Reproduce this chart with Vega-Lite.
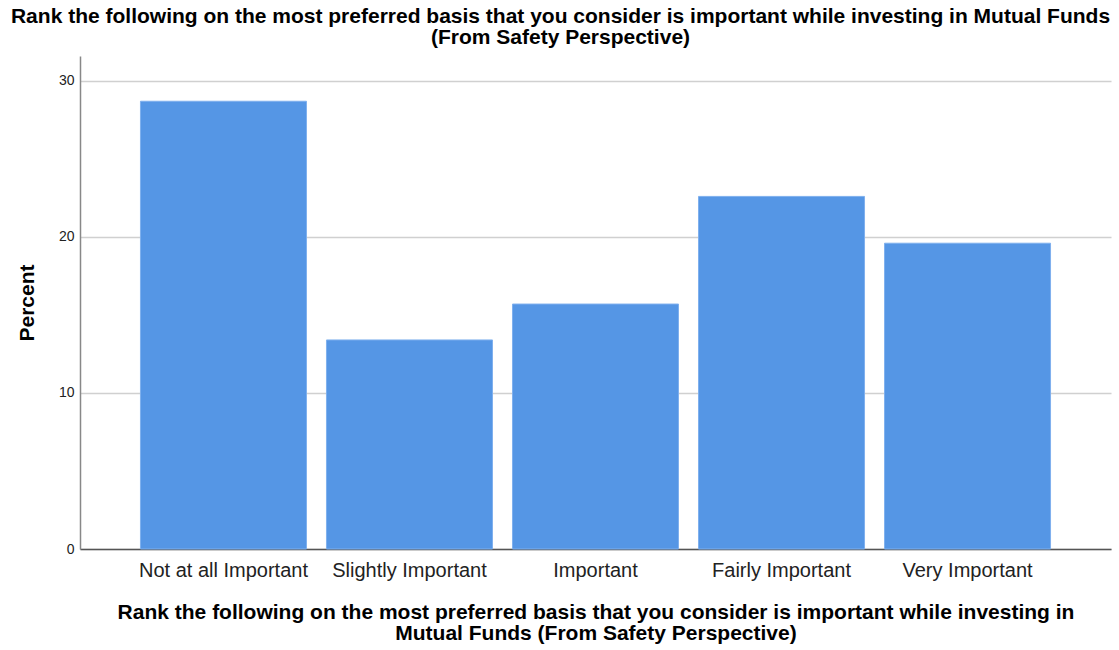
{
  "$schema": "https://vega.github.io/schema/vega-lite/v6.json",
  "width": 1031,
  "height": 493,
  "autosize": {"type": "none"},
  "padding": {"left": 80, "top": 56, "right": 8, "bottom": 101},
  "background": "white",
  "title": {
    "text": ["Rank the following on the most preferred basis that you consider is important while investing in Mutual Funds", "(From Safety Perspective)"],
    "font": "Liberation Sans",
    "fontSize": 21,
    "fontWeight": "bold",
    "color": "#000000",
    "anchor": "middle",
    "dx": -35,
    "offset": 8,
    "lineHeight": 21
  },
  "data": {
    "values": [
      {"category": "Not at all Important", "percent": 28.7},
      {"category": "Slightly Important", "percent": 13.4},
      {"category": "Important", "percent": 15.7},
      {"category": "Fairly Important", "percent": 22.6},
      {"category": "Very Important", "percent": 19.6}
    ]
  },
  "mark": {"type": "bar", "color": "#5596E5", "stroke": "#7fb0ee", "strokeWidth": 1},
  "encoding": {
    "x": {
      "field": "category",
      "type": "nominal",
      "sort": null,
      "scale": {"paddingInner": 0.1075, "paddingOuter": 0.325},
      "axis": {
        "title": ["Rank the following on the most preferred basis that you consider is important while investing in", "Mutual Funds (From Safety Perspective)"],
        "titleFont": "Liberation Sans",
        "titleFontSize": 21,
        "titleFontWeight": "bold",
        "titleColor": "#000000",
        "titleLineHeight": 21,
        "titlePadding": 21,
        "labelAngle": 0,
        "labelFont": "Liberation Sans",
        "labelFontSize": 20,
        "labelColor": "#222222",
        "labelPadding": 11,
        "ticks": false,
        "domainColor": "#555555",
        "domainWidth": 1.5,
        "grid": false
      }
    },
    "y": {
      "field": "percent",
      "type": "quantitative",
      "scale": {"domain": [0, 31.6], "nice": false},
      "axis": {
        "title": "Percent",
        "titleFont": "Liberation Sans",
        "titleFontSize": 21,
        "titleFontWeight": "bold",
        "titleColor": "#000000",
        "titlePadding": 21,
        "values": [0, 10, 20, 30],
        "labelFont": "Liberation Sans",
        "labelFontSize": 14,
        "labelColor": "#222222",
        "labelPadding": 6,
        "ticks": false,
        "domainColor": "#888888",
        "domainWidth": 1.5,
        "gridColor": "#d0d0d0",
        "gridWidth": 1.5
      }
    }
  },
  "config": {"view": {"stroke": null}}
}
